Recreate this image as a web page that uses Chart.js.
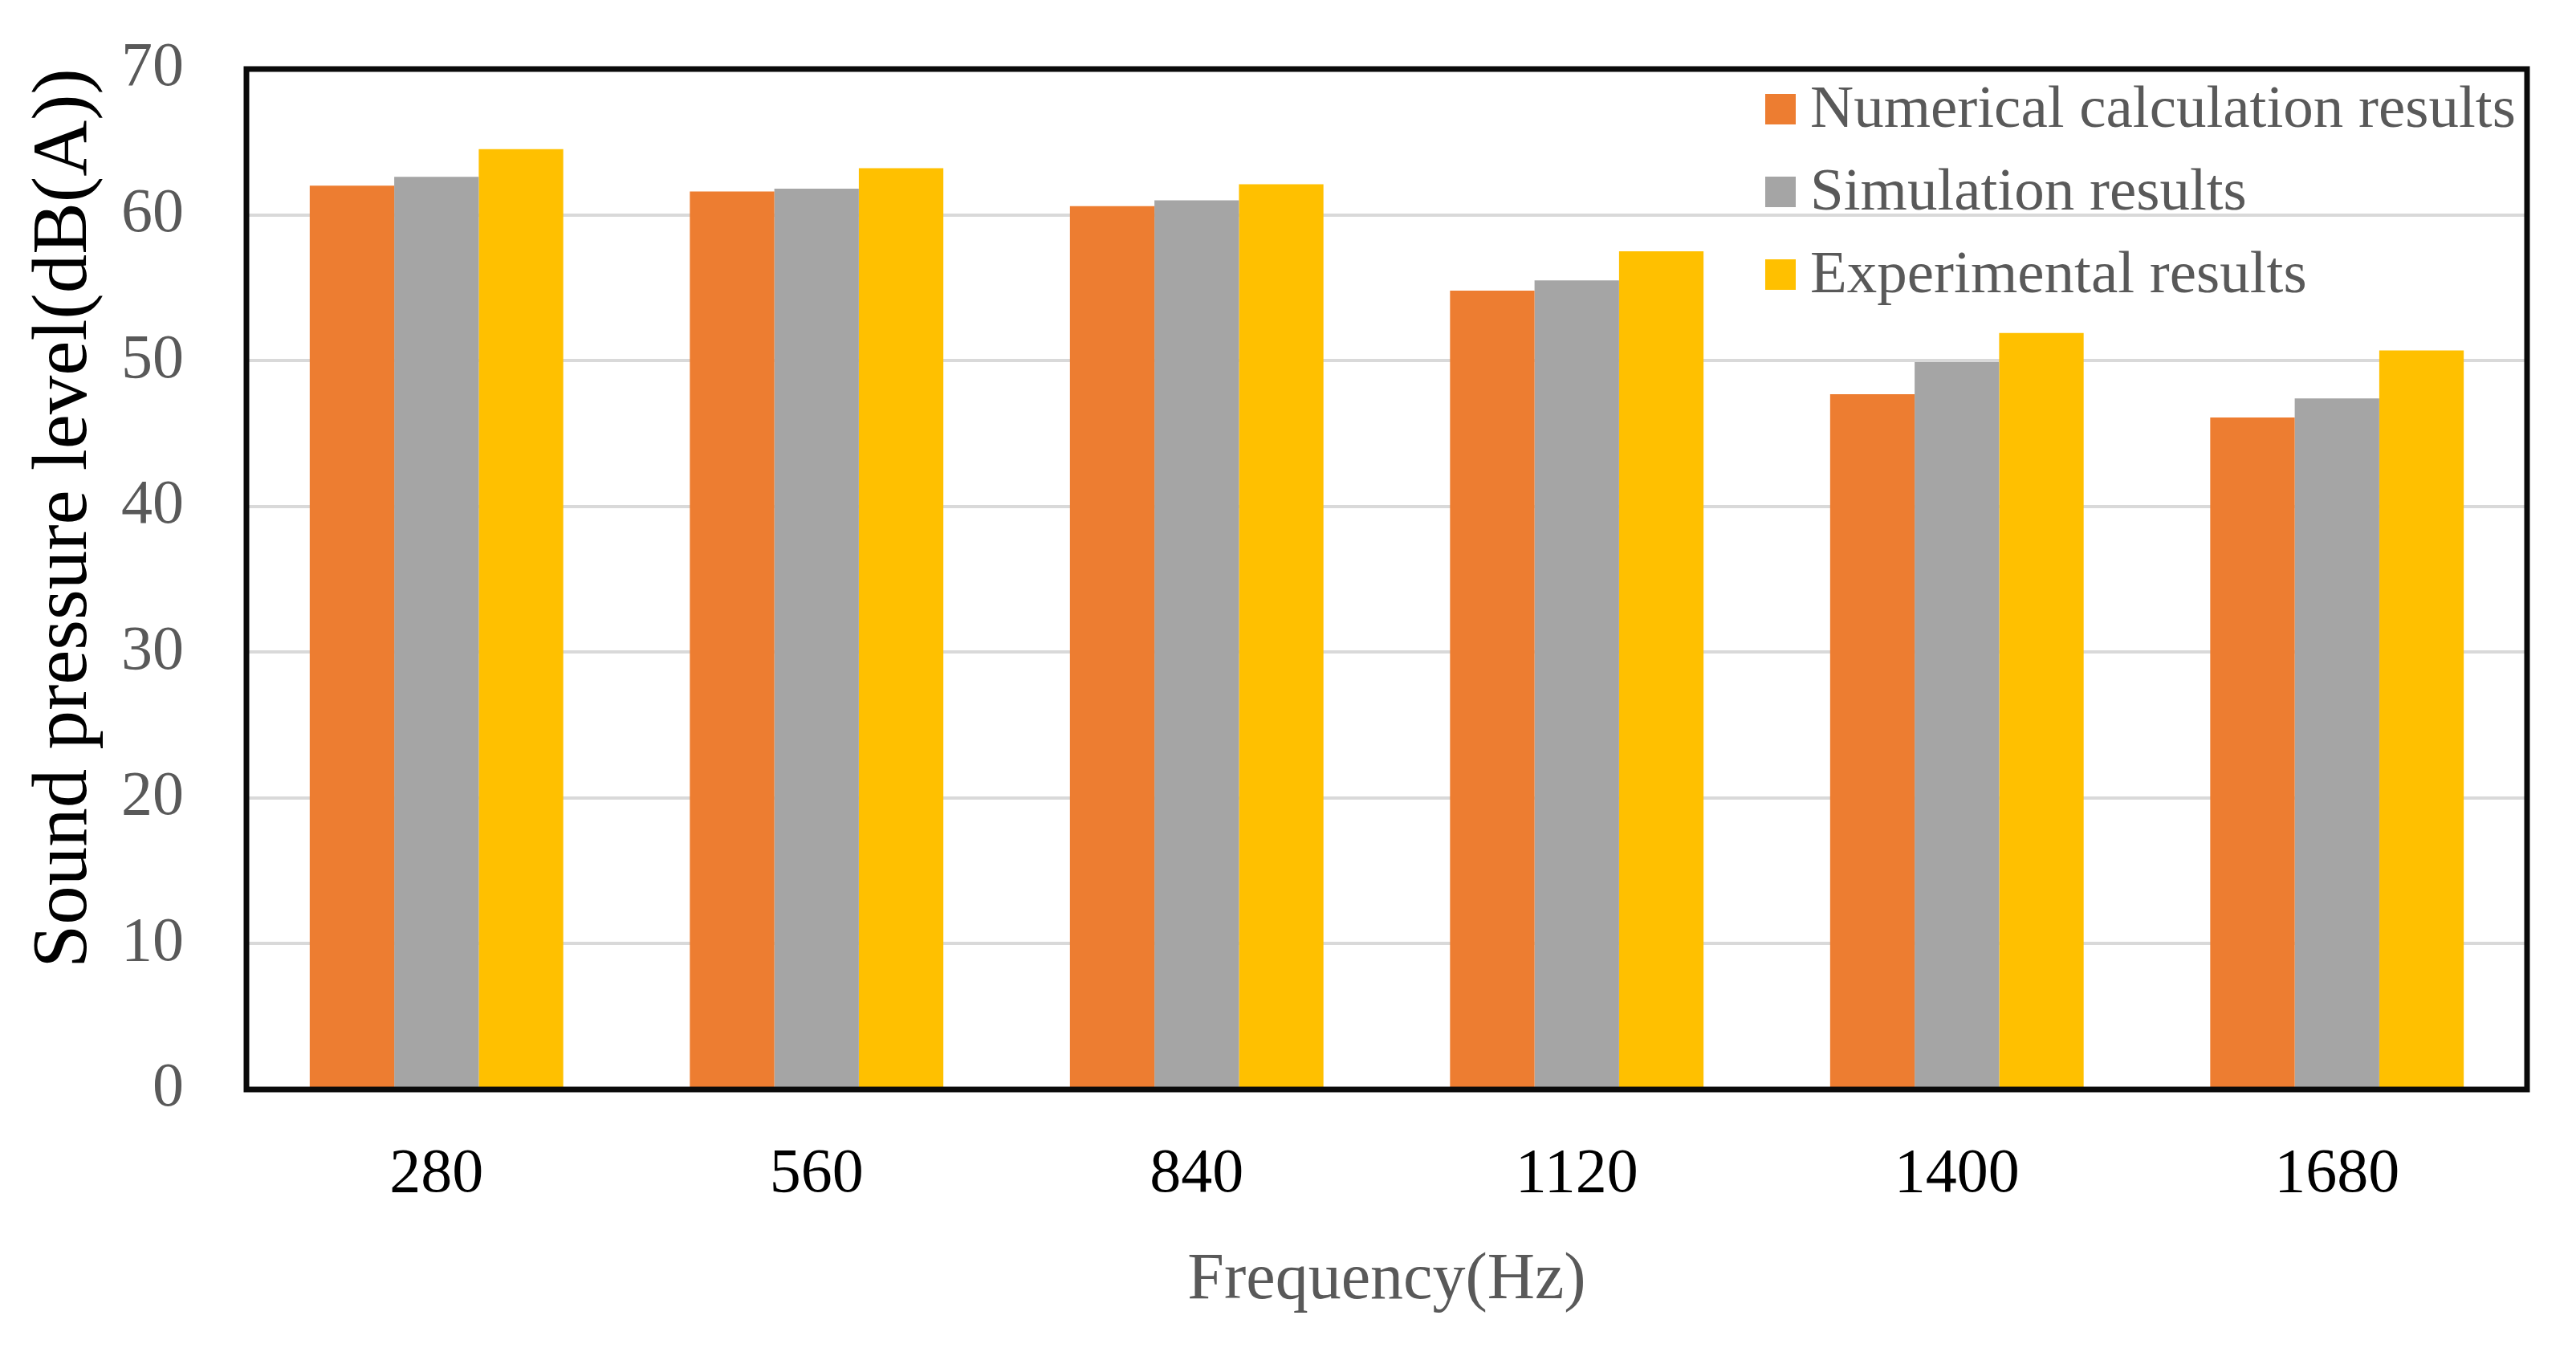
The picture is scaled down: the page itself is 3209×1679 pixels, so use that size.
<!DOCTYPE html>
<html>
<head>
<meta charset="utf-8">
<script src="https://cdn.jsdelivr.net/npm/chart.js@4/dist/chart.umd.min.js"></script>
<style>
  html, body { margin: 0; padding: 0; background: #fff; }
  #wrap { width: 3209px; height: 1679px; }
</style>
</head>
<body>
<div id="wrap"><canvas id="splChart" width="3209" height="1679"></canvas></div>
<script>
// frequencies (Hz)
let frequencies = ['280', '560', '840', '1120', '1400', '1680'];
// sound pressure level, dB(A)
let numerical = [62.0, 61.6, 60.6, 54.8, 47.7, 46.1];
let simulation = [62.6, 61.8, 61.0, 55.5, 49.9, 47.4];
let experimental = [64.5, 63.2, 62.1, 57.5, 51.9, 50.7];
let yTicks = [0, 10, 20, 30, 40, 50, 60, 70];
let yTitle = 'Sound pressure level(dB(A))';

let serif = '"Book Antiqua", "Palatino Linotype", "Liberation Serif", serif';

// black frame round the plot area
let framePlugin = {
  id: 'frame',
  afterDatasetsDraw(chart) {
    let a = chart.chartArea, ctx = chart.ctx;
    ctx.save();
    ctx.strokeStyle = '#0a0a0a';
    ctx.lineWidth = 7;
    ctx.strokeRect(a.left, a.top, a.right - a.left, a.bottom - a.top);
    ctx.restore();
  }
};

// y title sits a bit above the plot centre in the original
let yTitlePlugin = {
  id: 'yTitle',
  afterDraw(chart) {
    let a = chart.chartArea, ctx = chart.ctx;
    ctx.save();
    ctx.translate(82, (a.top + a.bottom) / 2 - 76);
    ctx.rotate(-Math.PI / 2);
    ctx.font = '97px ' + serif;
    ctx.fillStyle = '#000';
    ctx.textAlign = 'center';
    ctx.textBaseline = 'middle';
    ctx.fillText(yTitle, 0, 0);
    ctx.restore();
  }
};

// legend inside the plot, top right, one item per row
let innerLegend = {
  id: 'innerLegend',
  afterDraw(chart) {
    let a = chart.chartArea, ctx = chart.ctx;
    let x = a.right - 949, y = a.top + 50;
    ctx.save();
    ctx.font = '75px ' + serif;
    ctx.textBaseline = 'middle';
    ctx.textAlign = 'left';
    chart.data.datasets.forEach((ds, i) => {
      let cy = y + i * 103;
      ctx.fillStyle = ds.backgroundColor;
      ctx.fillRect(x, cy - 19, 38, 38);
      ctx.fillStyle = '#595959';
      ctx.fillText(ds.label, x + 56, cy + 2);
    });
    ctx.restore();
  }
};

let ctx = document.getElementById('splChart').getContext('2d');
let chart = new Chart(ctx, {
  type: 'bar',
  data: {
    labels: frequencies,
    datasets: [
      { label: 'Numerical calculation results', data: numerical, backgroundColor: '#ED7D31' },
      { label: 'Simulation results', data: simulation, backgroundColor: '#A5A5A5' },
      { label: 'Experimental results', data: experimental, backgroundColor: '#FFC000' }
    ]
  },
  options: {
    responsive: false,
    animation: false,
    devicePixelRatio: 1,
    layout: { padding: { top: 86, right: 61, left: 0, bottom: 0 } },
    datasets: { bar: { categoryPercentage: 0.667, barPercentage: 1.0 } },
    plugins: {
      legend: { display: false },
      tooltip: { enabled: false }
    },
    scales: {
      x: {
        grid: { display: false, drawTicks: false },
        border: { display: false },
        ticks: { color: '#000', font: { family: serif, size: 78 }, padding: 60 },
        title: {
          display: true, text: 'Frequency(Hz)', color: '#595959',
          font: { family: serif, size: 82 }, padding: { top: 0, bottom: 34 }
        },
        afterFit(scale) { scale.height = 322; scale.paddingLeft = 0; scale.paddingRight = 0; }
      },
      y: {
        min: 0, max: 70,
        afterBuildTicks(scale) { scale.ticks = yTicks.map(v => ({ value: v })); },
        grid: { color: '#D9D9D9', lineWidth: 4, drawTicks: false },
        border: { display: false },
        ticks: { color: '#595959', font: { family: serif, size: 78 }, padding: 78 },
        afterFit(scale) { scale.width = 307; scale.paddingTop = 0; scale.paddingBottom = 0; }
      }
    }
  },
  plugins: [framePlugin, yTitlePlugin, innerLegend]
});
</script>
</body>
</html>
